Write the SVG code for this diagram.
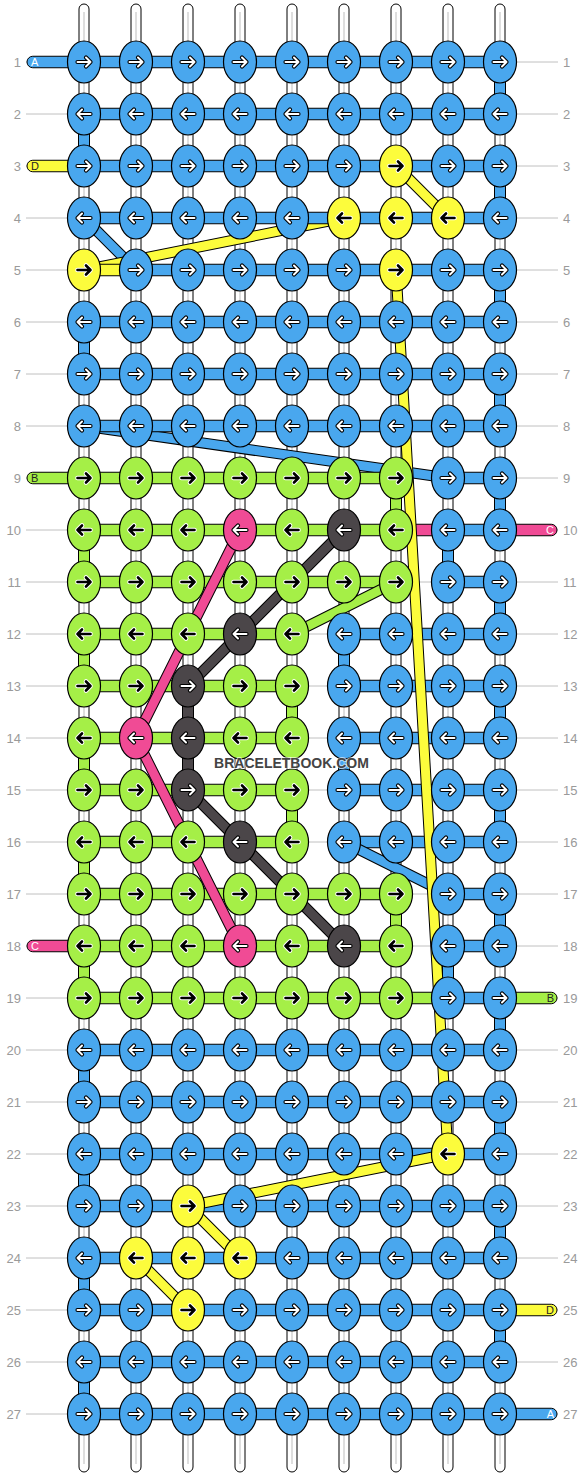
<svg xmlns="http://www.w3.org/2000/svg" width="584" height="1476" viewBox="0 0 584 1476">
<style>
.gl{stroke:#c0c0c0;stroke-width:1}
.wp{fill:#fff;stroke:#000;stroke-width:1}
.wc{stroke:#c8c8c8;stroke-width:1.2}
.cn{stroke:#000;stroke-width:1}
.B{fill:#49a7ee}.Y{fill:#fcfc3c}.G{fill:#a5ef47}.P{fill:#f04b95}.D{fill:#4b4649}
ellipse{stroke:#000;stroke-width:1.2}
.ol{fill:none;stroke:#000;stroke-width:11;stroke-linejoin:round}
.sB,.sY,.sG,.sP,.sD{fill:none;stroke-width:9;stroke-linejoin:round}
.sB{stroke:#49a7ee}.sY{stroke:#fcfc3c}.sG{stroke:#a5ef47}.sP{stroke:#f04b95}.sD{stroke:#4b4649}
.lb{font-family:"Liberation Sans",Arial,sans-serif;font-size:13px;fill:#9a9a9a}
.bt{font-family:"Liberation Sans",Arial,sans-serif;font-size:11px}
</style>
<defs>
<g id="wr"><path d="M-6.5 0H6.5M2 -4.5L6.5 0L2 4.5" fill="none" stroke="#000" stroke-width="4.2" stroke-linecap="round" stroke-linejoin="round"/><path d="M-6.5 0H6.5M2 -4.5L6.5 0L2 4.5" fill="none" stroke="#fff" stroke-width="2" stroke-linecap="round" stroke-linejoin="round"/></g>
<g id="wl"><path d="M6.5 0H-6.5M-2 -4.5L-6.5 0L-2 4.5" fill="none" stroke="#000" stroke-width="4.2" stroke-linecap="round" stroke-linejoin="round"/><path d="M6.5 0H-6.5M-2 -4.5L-6.5 0L-2 4.5" fill="none" stroke="#fff" stroke-width="2" stroke-linecap="round" stroke-linejoin="round"/></g>
<g id="kr"><path d="M-6.5 0H6.5M2 -4.5L6.5 0L2 4.5" fill="none" stroke="#fff" stroke-width="4.6" stroke-linecap="round" stroke-linejoin="round"/><path d="M-6.5 0H6.5M2 -4.5L6.5 0L2 4.5" fill="none" stroke="#000" stroke-width="2.6" stroke-linecap="round" stroke-linejoin="round"/></g>
<g id="kl"><path d="M6.5 0H-6.5M-2 -4.5L-6.5 0L-2 4.5" fill="none" stroke="#fff" stroke-width="4.6" stroke-linecap="round" stroke-linejoin="round"/><path d="M6.5 0H-6.5M-2 -4.5L-6.5 0L-2 4.5" fill="none" stroke="#000" stroke-width="2.6" stroke-linecap="round" stroke-linejoin="round"/></g>
</defs>
<rect width="584" height="1476" fill="#fff"/>
<g id="guides">
<path class="gl" d="M26 62H558M26 114H558M26 166H558M26 218H558M26 270H558M26 322H558M26 374H558M26 426H558M26 478H558M26 530H558M26 582H558M26 634H558M26 686H558M26 738H558M26 790H558M26 842H558M26 894H558M26 946H558M26 998H558M26 1050H558M26 1102H558M26 1154H558M26 1206H558M26 1258H558M26 1310H558M26 1362H558M26 1414H558"/>
</g>
<g id="warps">
<rect class="wp" x="79" y="4" width="10" height="1468" rx="5"/>
<rect class="wp" x="131" y="4" width="10" height="1468" rx="5"/>
<rect class="wp" x="183" y="4" width="10" height="1468" rx="5"/>
<rect class="wp" x="235" y="4" width="10" height="1468" rx="5"/>
<rect class="wp" x="287" y="4" width="10" height="1468" rx="5"/>
<rect class="wp" x="339" y="4" width="10" height="1468" rx="5"/>
<rect class="wp" x="391" y="4" width="10" height="1468" rx="5"/>
<rect class="wp" x="443" y="4" width="10" height="1468" rx="5"/>
<rect class="wp" x="495" y="4" width="10" height="1468" rx="5"/>
<path class="wc" d="M84 12V1464M136 12V1464M188 12V1464M240 12V1464M292 12V1464M344 12V1464M396 12V1464M448 12V1464M500 12V1464"/>
</g>
<g id="connectors">
<g id="under">
<polyline class="ol" points="84,218 136,270"/><polyline class="sB" points="84,218 136,270"/>
<polyline class="ol" points="344,218 84,270"/><polyline class="sY" points="344,218 84,270"/>
<polyline class="ol" points="84,426 448,478"/><polyline class="sB" points="84,426 448,478"/>
</g>
<g id="straight">
<rect class="cn B" x="84" y="56.25" width="416" height="11.5"/>
<rect class="cn B" x="84" y="108.25" width="416" height="11.5"/>
<rect class="cn B" x="84" y="160.25" width="416" height="11.5"/>
<rect class="cn B" x="84" y="212.25" width="416" height="11.5"/>
<rect class="cn Y" x="84" y="264.25" width="52" height="11.5"/>
<rect class="cn B" x="136" y="264.25" width="364" height="11.5"/>
<rect class="cn B" x="84" y="316.25" width="416" height="11.5"/>
<rect class="cn B" x="84" y="368.25" width="416" height="11.5"/>
<rect class="cn B" x="84" y="420.25" width="416" height="11.5"/>
<rect class="cn G" x="84" y="472.25" width="312" height="11.5"/>
<rect class="cn B" x="448" y="472.25" width="52" height="11.5"/>
<rect class="cn G" x="84" y="524.25" width="312" height="11.5"/>
<rect class="cn P" x="396" y="524.25" width="52" height="11.5"/>
<rect class="cn B" x="448" y="524.25" width="52" height="11.5"/>
<rect class="cn G" x="84" y="576.25" width="312" height="11.5"/>
<rect class="cn B" x="448" y="576.25" width="52" height="11.5"/>
<rect class="cn G" x="84" y="628.25" width="208" height="11.5"/>
<rect class="cn B" x="344" y="628.25" width="156" height="11.5"/>
<rect class="cn G" x="84" y="680.25" width="208" height="11.5"/>
<rect class="cn B" x="344" y="680.25" width="156" height="11.5"/>
<rect class="cn G" x="84" y="732.25" width="208" height="11.5"/>
<rect class="cn B" x="344" y="732.25" width="156" height="11.5"/>
<rect class="cn G" x="84" y="784.25" width="208" height="11.5"/>
<rect class="cn B" x="344" y="784.25" width="156" height="11.5"/>
<rect class="cn G" x="84" y="836.25" width="208" height="11.5"/>
<rect class="cn B" x="344" y="836.25" width="156" height="11.5"/>
<rect class="cn G" x="84" y="888.25" width="312" height="11.5"/>
<rect class="cn B" x="448" y="888.25" width="52" height="11.5"/>
<rect class="cn G" x="84" y="940.25" width="312" height="11.5"/>
<rect class="cn B" x="448" y="940.25" width="52" height="11.5"/>
<rect class="cn G" x="84" y="992.25" width="364" height="11.5"/>
<rect class="cn B" x="448" y="992.25" width="52" height="11.5"/>
<rect class="cn B" x="84" y="1044.25" width="416" height="11.5"/>
<rect class="cn B" x="84" y="1096.25" width="416" height="11.5"/>
<rect class="cn B" x="84" y="1148.25" width="416" height="11.5"/>
<rect class="cn B" x="84" y="1200.25" width="416" height="11.5"/>
<rect class="cn B" x="84" y="1252.25" width="416" height="11.5"/>
<rect class="cn B" x="84" y="1304.25" width="416" height="11.5"/>
<rect class="cn B" x="84" y="1356.25" width="416" height="11.5"/>
<rect class="cn B" x="84" y="1408.25" width="416" height="11.5"/>
<rect class="cn B" x="27" y="56.25" width="60" height="11.5" rx="5.75"/>
<rect class="cn Y" x="27" y="160.25" width="60" height="11.5" rx="5.75"/>
<rect class="cn G" x="27" y="472.25" width="60" height="11.5" rx="5.75"/>
<rect class="cn P" x="27" y="940.25" width="60" height="11.5" rx="5.75"/>
<rect class="cn P" x="497" y="524.25" width="60" height="11.5" rx="5.75"/>
<rect class="cn G" x="497" y="992.25" width="60" height="11.5" rx="5.75"/>
<rect class="cn Y" x="497" y="1304.25" width="60" height="11.5" rx="5.75"/>
<rect class="cn B" x="497" y="1408.25" width="60" height="11.5" rx="5.75"/>
<rect class="cn B" x="494.5" y="62" width="11" height="52"/>
<rect class="cn B" x="78.5" y="114" width="11" height="52"/>
<rect class="cn B" x="494.5" y="166" width="11" height="52"/>
<rect class="cn B" x="494.5" y="270" width="11" height="52"/>
<rect class="cn B" x="78.5" y="322" width="11" height="52"/>
<rect class="cn B" x="494.5" y="374" width="11" height="52"/>
<rect class="cn B" x="494.5" y="478" width="11" height="52"/>
<rect class="cn B" x="442.5" y="530" width="11" height="52"/>
<rect class="cn B" x="494.5" y="582" width="11" height="52"/>
<rect class="cn B" x="338.5" y="634" width="11" height="52"/>
<rect class="cn B" x="494.5" y="686" width="11" height="52"/>
<rect class="cn B" x="338.5" y="738" width="11" height="52"/>
<rect class="cn B" x="494.5" y="790" width="11" height="52"/>
<rect class="cn B" x="494.5" y="894" width="11" height="52"/>
<rect class="cn B" x="442.5" y="946" width="11" height="52"/>
<rect class="cn B" x="494.5" y="998" width="11" height="52"/>
<rect class="cn B" x="78.5" y="1050" width="11" height="52"/>
<rect class="cn B" x="494.5" y="1102" width="11" height="52"/>
<rect class="cn B" x="78.5" y="1154" width="11" height="52"/>
<rect class="cn B" x="494.5" y="1206" width="11" height="52"/>
<rect class="cn B" x="78.5" y="1258" width="11" height="52"/>
<rect class="cn B" x="494.5" y="1310" width="11" height="52"/>
<rect class="cn B" x="78.5" y="1362" width="11" height="52"/>
<rect class="cn G" x="390.5" y="478" width="11" height="52"/>
<rect class="cn G" x="78.5" y="530" width="11" height="52"/>
<rect class="cn G" x="78.5" y="634" width="11" height="52"/>
<rect class="cn G" x="286.5" y="686" width="11" height="52"/>
<rect class="cn G" x="78.5" y="738" width="11" height="52"/>
<rect class="cn G" x="286.5" y="790" width="11" height="52"/>
<rect class="cn G" x="78.5" y="842" width="11" height="52"/>
<rect class="cn G" x="390.5" y="894" width="11" height="52"/>
<rect class="cn G" x="78.5" y="946" width="11" height="52"/>
<rect class="cn D" x="182.5" y="686" width="11" height="104"/>
</g>
<g id="over">
<polyline class="ol" points="396,166 448,218"/><polyline class="sY" points="396,166 448,218"/>
<polyline class="ol" points="396,582 292,634"/><polyline class="sG" points="396,582 292,634"/>
<polyline class="ol" points="344,842 448,894"/><polyline class="sB" points="344,842 448,894"/>
<polyline class="ol" points="344,530 240,634 188,686"/><polyline class="sD" points="344,530 240,634 188,686"/>
<polyline class="ol" points="188,790 240,842 344,946"/><polyline class="sD" points="188,790 240,842 344,946"/>
<polyline class="ol" points="240,530 136,738 240,946"/><polyline class="sP" points="240,530 136,738 240,946"/>
<polyline class="ol" points="396,270 448,1154 188,1206 240,1258"/><polyline class="sY" points="396,270 448,1154 188,1206 240,1258"/>
<polyline class="ol" points="136,1258 188,1310"/><polyline class="sY" points="136,1258 188,1310"/>
</g>
</g>
<g id="knots">
<g id="n1_1"><ellipse class="B" cx="84" cy="62" rx="16.5" ry="21"/><use href="#wr" x="84" y="62"/></g>
<g id="n1_2"><ellipse class="B" cx="136" cy="62" rx="16.5" ry="21"/><use href="#wr" x="136" y="62"/></g>
<g id="n1_3"><ellipse class="B" cx="188" cy="62" rx="16.5" ry="21"/><use href="#wr" x="188" y="62"/></g>
<g id="n1_4"><ellipse class="B" cx="240" cy="62" rx="16.5" ry="21"/><use href="#wr" x="240" y="62"/></g>
<g id="n1_5"><ellipse class="B" cx="292" cy="62" rx="16.5" ry="21"/><use href="#wr" x="292" y="62"/></g>
<g id="n1_6"><ellipse class="B" cx="344" cy="62" rx="16.5" ry="21"/><use href="#wr" x="344" y="62"/></g>
<g id="n1_7"><ellipse class="B" cx="396" cy="62" rx="16.5" ry="21"/><use href="#wr" x="396" y="62"/></g>
<g id="n1_8"><ellipse class="B" cx="448" cy="62" rx="16.5" ry="21"/><use href="#wr" x="448" y="62"/></g>
<g id="n1_9"><ellipse class="B" cx="500" cy="62" rx="16.5" ry="21"/><use href="#wr" x="500" y="62"/></g>
<g id="n2_1"><ellipse class="B" cx="84" cy="114" rx="16.5" ry="21"/><use href="#wl" x="84" y="114"/></g>
<g id="n2_2"><ellipse class="B" cx="136" cy="114" rx="16.5" ry="21"/><use href="#wl" x="136" y="114"/></g>
<g id="n2_3"><ellipse class="B" cx="188" cy="114" rx="16.5" ry="21"/><use href="#wl" x="188" y="114"/></g>
<g id="n2_4"><ellipse class="B" cx="240" cy="114" rx="16.5" ry="21"/><use href="#wl" x="240" y="114"/></g>
<g id="n2_5"><ellipse class="B" cx="292" cy="114" rx="16.5" ry="21"/><use href="#wl" x="292" y="114"/></g>
<g id="n2_6"><ellipse class="B" cx="344" cy="114" rx="16.5" ry="21"/><use href="#wl" x="344" y="114"/></g>
<g id="n2_7"><ellipse class="B" cx="396" cy="114" rx="16.5" ry="21"/><use href="#wl" x="396" y="114"/></g>
<g id="n2_8"><ellipse class="B" cx="448" cy="114" rx="16.5" ry="21"/><use href="#wl" x="448" y="114"/></g>
<g id="n2_9"><ellipse class="B" cx="500" cy="114" rx="16.5" ry="21"/><use href="#wl" x="500" y="114"/></g>
<g id="n3_1"><ellipse class="B" cx="84" cy="166" rx="16.5" ry="21"/><use href="#wr" x="84" y="166"/></g>
<g id="n3_2"><ellipse class="B" cx="136" cy="166" rx="16.5" ry="21"/><use href="#wr" x="136" y="166"/></g>
<g id="n3_3"><ellipse class="B" cx="188" cy="166" rx="16.5" ry="21"/><use href="#wr" x="188" y="166"/></g>
<g id="n3_4"><ellipse class="B" cx="240" cy="166" rx="16.5" ry="21"/><use href="#wr" x="240" y="166"/></g>
<g id="n3_5"><ellipse class="B" cx="292" cy="166" rx="16.5" ry="21"/><use href="#wr" x="292" y="166"/></g>
<g id="n3_6"><ellipse class="B" cx="344" cy="166" rx="16.5" ry="21"/><use href="#wr" x="344" y="166"/></g>
<g id="n3_7"><ellipse class="Y" cx="396" cy="166" rx="16.5" ry="21"/><use href="#kr" x="396" y="166"/></g>
<g id="n3_8"><ellipse class="B" cx="448" cy="166" rx="16.5" ry="21"/><use href="#wr" x="448" y="166"/></g>
<g id="n3_9"><ellipse class="B" cx="500" cy="166" rx="16.5" ry="21"/><use href="#wr" x="500" y="166"/></g>
<g id="n4_1"><ellipse class="B" cx="84" cy="218" rx="16.5" ry="21"/><use href="#wl" x="84" y="218"/></g>
<g id="n4_2"><ellipse class="B" cx="136" cy="218" rx="16.5" ry="21"/><use href="#wl" x="136" y="218"/></g>
<g id="n4_3"><ellipse class="B" cx="188" cy="218" rx="16.5" ry="21"/><use href="#wl" x="188" y="218"/></g>
<g id="n4_4"><ellipse class="B" cx="240" cy="218" rx="16.5" ry="21"/><use href="#wl" x="240" y="218"/></g>
<g id="n4_5"><ellipse class="B" cx="292" cy="218" rx="16.5" ry="21"/><use href="#wl" x="292" y="218"/></g>
<g id="n4_6"><ellipse class="Y" cx="344" cy="218" rx="16.5" ry="21"/><use href="#kl" x="344" y="218"/></g>
<g id="n4_7"><ellipse class="Y" cx="396" cy="218" rx="16.5" ry="21"/><use href="#kl" x="396" y="218"/></g>
<g id="n4_8"><ellipse class="Y" cx="448" cy="218" rx="16.5" ry="21"/><use href="#kl" x="448" y="218"/></g>
<g id="n4_9"><ellipse class="B" cx="500" cy="218" rx="16.5" ry="21"/><use href="#wl" x="500" y="218"/></g>
<g id="n5_1"><ellipse class="Y" cx="84" cy="270" rx="16.5" ry="21"/><use href="#kr" x="84" y="270"/></g>
<g id="n5_2"><ellipse class="B" cx="136" cy="270" rx="16.5" ry="21"/><use href="#wr" x="136" y="270"/></g>
<g id="n5_3"><ellipse class="B" cx="188" cy="270" rx="16.5" ry="21"/><use href="#wr" x="188" y="270"/></g>
<g id="n5_4"><ellipse class="B" cx="240" cy="270" rx="16.5" ry="21"/><use href="#wr" x="240" y="270"/></g>
<g id="n5_5"><ellipse class="B" cx="292" cy="270" rx="16.5" ry="21"/><use href="#wr" x="292" y="270"/></g>
<g id="n5_6"><ellipse class="B" cx="344" cy="270" rx="16.5" ry="21"/><use href="#wr" x="344" y="270"/></g>
<g id="n5_7"><ellipse class="Y" cx="396" cy="270" rx="16.5" ry="21"/><use href="#kr" x="396" y="270"/></g>
<g id="n5_8"><ellipse class="B" cx="448" cy="270" rx="16.5" ry="21"/><use href="#wr" x="448" y="270"/></g>
<g id="n5_9"><ellipse class="B" cx="500" cy="270" rx="16.5" ry="21"/><use href="#wr" x="500" y="270"/></g>
<g id="n6_1"><ellipse class="B" cx="84" cy="322" rx="16.5" ry="21"/><use href="#wl" x="84" y="322"/></g>
<g id="n6_2"><ellipse class="B" cx="136" cy="322" rx="16.5" ry="21"/><use href="#wl" x="136" y="322"/></g>
<g id="n6_3"><ellipse class="B" cx="188" cy="322" rx="16.5" ry="21"/><use href="#wl" x="188" y="322"/></g>
<g id="n6_4"><ellipse class="B" cx="240" cy="322" rx="16.5" ry="21"/><use href="#wl" x="240" y="322"/></g>
<g id="n6_5"><ellipse class="B" cx="292" cy="322" rx="16.5" ry="21"/><use href="#wl" x="292" y="322"/></g>
<g id="n6_6"><ellipse class="B" cx="344" cy="322" rx="16.5" ry="21"/><use href="#wl" x="344" y="322"/></g>
<g id="n6_7"><ellipse class="B" cx="396" cy="322" rx="16.5" ry="21"/><use href="#wl" x="396" y="322"/></g>
<g id="n6_8"><ellipse class="B" cx="448" cy="322" rx="16.5" ry="21"/><use href="#wl" x="448" y="322"/></g>
<g id="n6_9"><ellipse class="B" cx="500" cy="322" rx="16.5" ry="21"/><use href="#wl" x="500" y="322"/></g>
<g id="n7_1"><ellipse class="B" cx="84" cy="374" rx="16.5" ry="21"/><use href="#wr" x="84" y="374"/></g>
<g id="n7_2"><ellipse class="B" cx="136" cy="374" rx="16.5" ry="21"/><use href="#wr" x="136" y="374"/></g>
<g id="n7_3"><ellipse class="B" cx="188" cy="374" rx="16.5" ry="21"/><use href="#wr" x="188" y="374"/></g>
<g id="n7_4"><ellipse class="B" cx="240" cy="374" rx="16.5" ry="21"/><use href="#wr" x="240" y="374"/></g>
<g id="n7_5"><ellipse class="B" cx="292" cy="374" rx="16.5" ry="21"/><use href="#wr" x="292" y="374"/></g>
<g id="n7_6"><ellipse class="B" cx="344" cy="374" rx="16.5" ry="21"/><use href="#wr" x="344" y="374"/></g>
<g id="n7_7"><ellipse class="B" cx="396" cy="374" rx="16.5" ry="21"/><use href="#wr" x="396" y="374"/></g>
<g id="n7_8"><ellipse class="B" cx="448" cy="374" rx="16.5" ry="21"/><use href="#wr" x="448" y="374"/></g>
<g id="n7_9"><ellipse class="B" cx="500" cy="374" rx="16.5" ry="21"/><use href="#wr" x="500" y="374"/></g>
<g id="n8_1"><ellipse class="B" cx="84" cy="426" rx="16.5" ry="21"/><use href="#wl" x="84" y="426"/></g>
<g id="n8_2"><ellipse class="B" cx="136" cy="426" rx="16.5" ry="21"/><use href="#wl" x="136" y="426"/></g>
<g id="n8_3"><ellipse class="B" cx="188" cy="426" rx="16.5" ry="21"/><use href="#wl" x="188" y="426"/></g>
<g id="n8_4"><ellipse class="B" cx="240" cy="426" rx="16.5" ry="21"/><use href="#wl" x="240" y="426"/></g>
<g id="n8_5"><ellipse class="B" cx="292" cy="426" rx="16.5" ry="21"/><use href="#wl" x="292" y="426"/></g>
<g id="n8_6"><ellipse class="B" cx="344" cy="426" rx="16.5" ry="21"/><use href="#wl" x="344" y="426"/></g>
<g id="n8_7"><ellipse class="B" cx="396" cy="426" rx="16.5" ry="21"/><use href="#wl" x="396" y="426"/></g>
<g id="n8_8"><ellipse class="B" cx="448" cy="426" rx="16.5" ry="21"/><use href="#wl" x="448" y="426"/></g>
<g id="n8_9"><ellipse class="B" cx="500" cy="426" rx="16.5" ry="21"/><use href="#wl" x="500" y="426"/></g>
<g id="n9_1"><ellipse class="G" cx="84" cy="478" rx="16.5" ry="21"/><use href="#kr" x="84" y="478"/></g>
<g id="n9_2"><ellipse class="G" cx="136" cy="478" rx="16.5" ry="21"/><use href="#kr" x="136" y="478"/></g>
<g id="n9_3"><ellipse class="G" cx="188" cy="478" rx="16.5" ry="21"/><use href="#kr" x="188" y="478"/></g>
<g id="n9_4"><ellipse class="G" cx="240" cy="478" rx="16.5" ry="21"/><use href="#kr" x="240" y="478"/></g>
<g id="n9_5"><ellipse class="G" cx="292" cy="478" rx="16.5" ry="21"/><use href="#kr" x="292" y="478"/></g>
<g id="n9_6"><ellipse class="G" cx="344" cy="478" rx="16.5" ry="21"/><use href="#kr" x="344" y="478"/></g>
<g id="n9_7"><ellipse class="G" cx="396" cy="478" rx="16.5" ry="21"/><use href="#kr" x="396" y="478"/></g>
<g id="n9_8"><ellipse class="B" cx="448" cy="478" rx="16.5" ry="21"/><use href="#wr" x="448" y="478"/></g>
<g id="n9_9"><ellipse class="B" cx="500" cy="478" rx="16.5" ry="21"/><use href="#wr" x="500" y="478"/></g>
<g id="n10_1"><ellipse class="G" cx="84" cy="530" rx="16.5" ry="21"/><use href="#kl" x="84" y="530"/></g>
<g id="n10_2"><ellipse class="G" cx="136" cy="530" rx="16.5" ry="21"/><use href="#kl" x="136" y="530"/></g>
<g id="n10_3"><ellipse class="G" cx="188" cy="530" rx="16.5" ry="21"/><use href="#kl" x="188" y="530"/></g>
<g id="n10_4"><ellipse class="P" cx="240" cy="530" rx="16.5" ry="21"/><use href="#wl" x="240" y="530"/></g>
<g id="n10_5"><ellipse class="G" cx="292" cy="530" rx="16.5" ry="21"/><use href="#kl" x="292" y="530"/></g>
<g id="n10_6"><ellipse class="D" cx="344" cy="530" rx="16.5" ry="21"/><use href="#wl" x="344" y="530"/></g>
<g id="n10_7"><ellipse class="G" cx="396" cy="530" rx="16.5" ry="21"/><use href="#kl" x="396" y="530"/></g>
<g id="n10_8"><ellipse class="B" cx="448" cy="530" rx="16.5" ry="21"/><use href="#wl" x="448" y="530"/></g>
<g id="n10_9"><ellipse class="B" cx="500" cy="530" rx="16.5" ry="21"/><use href="#wl" x="500" y="530"/></g>
<g id="n11_1"><ellipse class="G" cx="84" cy="582" rx="16.5" ry="21"/><use href="#kr" x="84" y="582"/></g>
<g id="n11_2"><ellipse class="G" cx="136" cy="582" rx="16.5" ry="21"/><use href="#kr" x="136" y="582"/></g>
<g id="n11_3"><ellipse class="G" cx="188" cy="582" rx="16.5" ry="21"/><use href="#kr" x="188" y="582"/></g>
<g id="n11_4"><ellipse class="G" cx="240" cy="582" rx="16.5" ry="21"/><use href="#kr" x="240" y="582"/></g>
<g id="n11_5"><ellipse class="G" cx="292" cy="582" rx="16.5" ry="21"/><use href="#kr" x="292" y="582"/></g>
<g id="n11_6"><ellipse class="G" cx="344" cy="582" rx="16.5" ry="21"/><use href="#kr" x="344" y="582"/></g>
<g id="n11_7"><ellipse class="G" cx="396" cy="582" rx="16.5" ry="21"/><use href="#kr" x="396" y="582"/></g>
<g id="n11_8"><ellipse class="B" cx="448" cy="582" rx="16.5" ry="21"/><use href="#wr" x="448" y="582"/></g>
<g id="n11_9"><ellipse class="B" cx="500" cy="582" rx="16.5" ry="21"/><use href="#wr" x="500" y="582"/></g>
<g id="n12_1"><ellipse class="G" cx="84" cy="634" rx="16.5" ry="21"/><use href="#kl" x="84" y="634"/></g>
<g id="n12_2"><ellipse class="G" cx="136" cy="634" rx="16.5" ry="21"/><use href="#kl" x="136" y="634"/></g>
<g id="n12_3"><ellipse class="G" cx="188" cy="634" rx="16.5" ry="21"/><use href="#kl" x="188" y="634"/></g>
<g id="n12_4"><ellipse class="D" cx="240" cy="634" rx="16.5" ry="21"/><use href="#wl" x="240" y="634"/></g>
<g id="n12_5"><ellipse class="G" cx="292" cy="634" rx="16.5" ry="21"/><use href="#kl" x="292" y="634"/></g>
<g id="n12_6"><ellipse class="B" cx="344" cy="634" rx="16.5" ry="21"/><use href="#wl" x="344" y="634"/></g>
<g id="n12_7"><ellipse class="B" cx="396" cy="634" rx="16.5" ry="21"/><use href="#wl" x="396" y="634"/></g>
<g id="n12_8"><ellipse class="B" cx="448" cy="634" rx="16.5" ry="21"/><use href="#wl" x="448" y="634"/></g>
<g id="n12_9"><ellipse class="B" cx="500" cy="634" rx="16.5" ry="21"/><use href="#wl" x="500" y="634"/></g>
<g id="n13_1"><ellipse class="G" cx="84" cy="686" rx="16.5" ry="21"/><use href="#kr" x="84" y="686"/></g>
<g id="n13_2"><ellipse class="G" cx="136" cy="686" rx="16.5" ry="21"/><use href="#kr" x="136" y="686"/></g>
<g id="n13_3"><ellipse class="D" cx="188" cy="686" rx="16.5" ry="21"/><use href="#wr" x="188" y="686"/></g>
<g id="n13_4"><ellipse class="G" cx="240" cy="686" rx="16.5" ry="21"/><use href="#kr" x="240" y="686"/></g>
<g id="n13_5"><ellipse class="G" cx="292" cy="686" rx="16.5" ry="21"/><use href="#kr" x="292" y="686"/></g>
<g id="n13_6"><ellipse class="B" cx="344" cy="686" rx="16.5" ry="21"/><use href="#wr" x="344" y="686"/></g>
<g id="n13_7"><ellipse class="B" cx="396" cy="686" rx="16.5" ry="21"/><use href="#wr" x="396" y="686"/></g>
<g id="n13_8"><ellipse class="B" cx="448" cy="686" rx="16.5" ry="21"/><use href="#wr" x="448" y="686"/></g>
<g id="n13_9"><ellipse class="B" cx="500" cy="686" rx="16.5" ry="21"/><use href="#wr" x="500" y="686"/></g>
<g id="n14_1"><ellipse class="G" cx="84" cy="738" rx="16.5" ry="21"/><use href="#kl" x="84" y="738"/></g>
<g id="n14_2"><ellipse class="P" cx="136" cy="738" rx="16.5" ry="21"/><use href="#wl" x="136" y="738"/></g>
<g id="n14_3"><ellipse class="D" cx="188" cy="738" rx="16.5" ry="21"/><use href="#wl" x="188" y="738"/></g>
<g id="n14_4"><ellipse class="G" cx="240" cy="738" rx="16.5" ry="21"/><use href="#kl" x="240" y="738"/></g>
<g id="n14_5"><ellipse class="G" cx="292" cy="738" rx="16.5" ry="21"/><use href="#kl" x="292" y="738"/></g>
<g id="n14_6"><ellipse class="B" cx="344" cy="738" rx="16.5" ry="21"/><use href="#wl" x="344" y="738"/></g>
<g id="n14_7"><ellipse class="B" cx="396" cy="738" rx="16.5" ry="21"/><use href="#wl" x="396" y="738"/></g>
<g id="n14_8"><ellipse class="B" cx="448" cy="738" rx="16.5" ry="21"/><use href="#wl" x="448" y="738"/></g>
<g id="n14_9"><ellipse class="B" cx="500" cy="738" rx="16.5" ry="21"/><use href="#wl" x="500" y="738"/></g>
<g id="n15_1"><ellipse class="G" cx="84" cy="790" rx="16.5" ry="21"/><use href="#kr" x="84" y="790"/></g>
<g id="n15_2"><ellipse class="G" cx="136" cy="790" rx="16.5" ry="21"/><use href="#kr" x="136" y="790"/></g>
<g id="n15_3"><ellipse class="D" cx="188" cy="790" rx="16.5" ry="21"/><use href="#wr" x="188" y="790"/></g>
<g id="n15_4"><ellipse class="G" cx="240" cy="790" rx="16.5" ry="21"/><use href="#kr" x="240" y="790"/></g>
<g id="n15_5"><ellipse class="G" cx="292" cy="790" rx="16.5" ry="21"/><use href="#kr" x="292" y="790"/></g>
<g id="n15_6"><ellipse class="B" cx="344" cy="790" rx="16.5" ry="21"/><use href="#wr" x="344" y="790"/></g>
<g id="n15_7"><ellipse class="B" cx="396" cy="790" rx="16.5" ry="21"/><use href="#wr" x="396" y="790"/></g>
<g id="n15_8"><ellipse class="B" cx="448" cy="790" rx="16.5" ry="21"/><use href="#wr" x="448" y="790"/></g>
<g id="n15_9"><ellipse class="B" cx="500" cy="790" rx="16.5" ry="21"/><use href="#wr" x="500" y="790"/></g>
<g id="n16_1"><ellipse class="G" cx="84" cy="842" rx="16.5" ry="21"/><use href="#kl" x="84" y="842"/></g>
<g id="n16_2"><ellipse class="G" cx="136" cy="842" rx="16.5" ry="21"/><use href="#kl" x="136" y="842"/></g>
<g id="n16_3"><ellipse class="G" cx="188" cy="842" rx="16.5" ry="21"/><use href="#kl" x="188" y="842"/></g>
<g id="n16_4"><ellipse class="D" cx="240" cy="842" rx="16.5" ry="21"/><use href="#wl" x="240" y="842"/></g>
<g id="n16_5"><ellipse class="G" cx="292" cy="842" rx="16.5" ry="21"/><use href="#kl" x="292" y="842"/></g>
<g id="n16_6"><ellipse class="B" cx="344" cy="842" rx="16.5" ry="21"/><use href="#wl" x="344" y="842"/></g>
<g id="n16_7"><ellipse class="B" cx="396" cy="842" rx="16.5" ry="21"/><use href="#wl" x="396" y="842"/></g>
<g id="n16_8"><ellipse class="B" cx="448" cy="842" rx="16.5" ry="21"/><use href="#wl" x="448" y="842"/></g>
<g id="n16_9"><ellipse class="B" cx="500" cy="842" rx="16.5" ry="21"/><use href="#wl" x="500" y="842"/></g>
<g id="n17_1"><ellipse class="G" cx="84" cy="894" rx="16.5" ry="21"/><use href="#kr" x="84" y="894"/></g>
<g id="n17_2"><ellipse class="G" cx="136" cy="894" rx="16.5" ry="21"/><use href="#kr" x="136" y="894"/></g>
<g id="n17_3"><ellipse class="G" cx="188" cy="894" rx="16.5" ry="21"/><use href="#kr" x="188" y="894"/></g>
<g id="n17_4"><ellipse class="G" cx="240" cy="894" rx="16.5" ry="21"/><use href="#kr" x="240" y="894"/></g>
<g id="n17_5"><ellipse class="G" cx="292" cy="894" rx="16.5" ry="21"/><use href="#kr" x="292" y="894"/></g>
<g id="n17_6"><ellipse class="G" cx="344" cy="894" rx="16.5" ry="21"/><use href="#kr" x="344" y="894"/></g>
<g id="n17_7"><ellipse class="G" cx="396" cy="894" rx="16.5" ry="21"/><use href="#kr" x="396" y="894"/></g>
<g id="n17_8"><ellipse class="B" cx="448" cy="894" rx="16.5" ry="21"/><use href="#wr" x="448" y="894"/></g>
<g id="n17_9"><ellipse class="B" cx="500" cy="894" rx="16.5" ry="21"/><use href="#wr" x="500" y="894"/></g>
<g id="n18_1"><ellipse class="G" cx="84" cy="946" rx="16.5" ry="21"/><use href="#kl" x="84" y="946"/></g>
<g id="n18_2"><ellipse class="G" cx="136" cy="946" rx="16.5" ry="21"/><use href="#kl" x="136" y="946"/></g>
<g id="n18_3"><ellipse class="G" cx="188" cy="946" rx="16.5" ry="21"/><use href="#kl" x="188" y="946"/></g>
<g id="n18_4"><ellipse class="P" cx="240" cy="946" rx="16.5" ry="21"/><use href="#wl" x="240" y="946"/></g>
<g id="n18_5"><ellipse class="G" cx="292" cy="946" rx="16.5" ry="21"/><use href="#kl" x="292" y="946"/></g>
<g id="n18_6"><ellipse class="D" cx="344" cy="946" rx="16.5" ry="21"/><use href="#wl" x="344" y="946"/></g>
<g id="n18_7"><ellipse class="G" cx="396" cy="946" rx="16.5" ry="21"/><use href="#kl" x="396" y="946"/></g>
<g id="n18_8"><ellipse class="B" cx="448" cy="946" rx="16.5" ry="21"/><use href="#wl" x="448" y="946"/></g>
<g id="n18_9"><ellipse class="B" cx="500" cy="946" rx="16.5" ry="21"/><use href="#wl" x="500" y="946"/></g>
<g id="n19_1"><ellipse class="G" cx="84" cy="998" rx="16.5" ry="21"/><use href="#kr" x="84" y="998"/></g>
<g id="n19_2"><ellipse class="G" cx="136" cy="998" rx="16.5" ry="21"/><use href="#kr" x="136" y="998"/></g>
<g id="n19_3"><ellipse class="G" cx="188" cy="998" rx="16.5" ry="21"/><use href="#kr" x="188" y="998"/></g>
<g id="n19_4"><ellipse class="G" cx="240" cy="998" rx="16.5" ry="21"/><use href="#kr" x="240" y="998"/></g>
<g id="n19_5"><ellipse class="G" cx="292" cy="998" rx="16.5" ry="21"/><use href="#kr" x="292" y="998"/></g>
<g id="n19_6"><ellipse class="G" cx="344" cy="998" rx="16.5" ry="21"/><use href="#kr" x="344" y="998"/></g>
<g id="n19_7"><ellipse class="G" cx="396" cy="998" rx="16.5" ry="21"/><use href="#kr" x="396" y="998"/></g>
<g id="n19_8"><ellipse class="B" cx="448" cy="998" rx="16.5" ry="21"/><use href="#wr" x="448" y="998"/></g>
<g id="n19_9"><ellipse class="B" cx="500" cy="998" rx="16.5" ry="21"/><use href="#wr" x="500" y="998"/></g>
<g id="n20_1"><ellipse class="B" cx="84" cy="1050" rx="16.5" ry="21"/><use href="#wl" x="84" y="1050"/></g>
<g id="n20_2"><ellipse class="B" cx="136" cy="1050" rx="16.5" ry="21"/><use href="#wl" x="136" y="1050"/></g>
<g id="n20_3"><ellipse class="B" cx="188" cy="1050" rx="16.5" ry="21"/><use href="#wl" x="188" y="1050"/></g>
<g id="n20_4"><ellipse class="B" cx="240" cy="1050" rx="16.5" ry="21"/><use href="#wl" x="240" y="1050"/></g>
<g id="n20_5"><ellipse class="B" cx="292" cy="1050" rx="16.5" ry="21"/><use href="#wl" x="292" y="1050"/></g>
<g id="n20_6"><ellipse class="B" cx="344" cy="1050" rx="16.5" ry="21"/><use href="#wl" x="344" y="1050"/></g>
<g id="n20_7"><ellipse class="B" cx="396" cy="1050" rx="16.5" ry="21"/><use href="#wl" x="396" y="1050"/></g>
<g id="n20_8"><ellipse class="B" cx="448" cy="1050" rx="16.5" ry="21"/><use href="#wl" x="448" y="1050"/></g>
<g id="n20_9"><ellipse class="B" cx="500" cy="1050" rx="16.5" ry="21"/><use href="#wl" x="500" y="1050"/></g>
<g id="n21_1"><ellipse class="B" cx="84" cy="1102" rx="16.5" ry="21"/><use href="#wr" x="84" y="1102"/></g>
<g id="n21_2"><ellipse class="B" cx="136" cy="1102" rx="16.5" ry="21"/><use href="#wr" x="136" y="1102"/></g>
<g id="n21_3"><ellipse class="B" cx="188" cy="1102" rx="16.5" ry="21"/><use href="#wr" x="188" y="1102"/></g>
<g id="n21_4"><ellipse class="B" cx="240" cy="1102" rx="16.5" ry="21"/><use href="#wr" x="240" y="1102"/></g>
<g id="n21_5"><ellipse class="B" cx="292" cy="1102" rx="16.5" ry="21"/><use href="#wr" x="292" y="1102"/></g>
<g id="n21_6"><ellipse class="B" cx="344" cy="1102" rx="16.5" ry="21"/><use href="#wr" x="344" y="1102"/></g>
<g id="n21_7"><ellipse class="B" cx="396" cy="1102" rx="16.5" ry="21"/><use href="#wr" x="396" y="1102"/></g>
<g id="n21_8"><ellipse class="B" cx="448" cy="1102" rx="16.5" ry="21"/><use href="#wr" x="448" y="1102"/></g>
<g id="n21_9"><ellipse class="B" cx="500" cy="1102" rx="16.5" ry="21"/><use href="#wr" x="500" y="1102"/></g>
<g id="n22_1"><ellipse class="B" cx="84" cy="1154" rx="16.5" ry="21"/><use href="#wl" x="84" y="1154"/></g>
<g id="n22_2"><ellipse class="B" cx="136" cy="1154" rx="16.5" ry="21"/><use href="#wl" x="136" y="1154"/></g>
<g id="n22_3"><ellipse class="B" cx="188" cy="1154" rx="16.5" ry="21"/><use href="#wl" x="188" y="1154"/></g>
<g id="n22_4"><ellipse class="B" cx="240" cy="1154" rx="16.5" ry="21"/><use href="#wl" x="240" y="1154"/></g>
<g id="n22_5"><ellipse class="B" cx="292" cy="1154" rx="16.5" ry="21"/><use href="#wl" x="292" y="1154"/></g>
<g id="n22_6"><ellipse class="B" cx="344" cy="1154" rx="16.5" ry="21"/><use href="#wl" x="344" y="1154"/></g>
<g id="n22_7"><ellipse class="B" cx="396" cy="1154" rx="16.5" ry="21"/><use href="#wl" x="396" y="1154"/></g>
<g id="n22_8"><ellipse class="Y" cx="448" cy="1154" rx="16.5" ry="21"/><use href="#kl" x="448" y="1154"/></g>
<g id="n22_9"><ellipse class="B" cx="500" cy="1154" rx="16.5" ry="21"/><use href="#wl" x="500" y="1154"/></g>
<g id="n23_1"><ellipse class="B" cx="84" cy="1206" rx="16.5" ry="21"/><use href="#wr" x="84" y="1206"/></g>
<g id="n23_2"><ellipse class="B" cx="136" cy="1206" rx="16.5" ry="21"/><use href="#wr" x="136" y="1206"/></g>
<g id="n23_3"><ellipse class="Y" cx="188" cy="1206" rx="16.5" ry="21"/><use href="#kr" x="188" y="1206"/></g>
<g id="n23_4"><ellipse class="B" cx="240" cy="1206" rx="16.5" ry="21"/><use href="#wr" x="240" y="1206"/></g>
<g id="n23_5"><ellipse class="B" cx="292" cy="1206" rx="16.5" ry="21"/><use href="#wr" x="292" y="1206"/></g>
<g id="n23_6"><ellipse class="B" cx="344" cy="1206" rx="16.5" ry="21"/><use href="#wr" x="344" y="1206"/></g>
<g id="n23_7"><ellipse class="B" cx="396" cy="1206" rx="16.5" ry="21"/><use href="#wr" x="396" y="1206"/></g>
<g id="n23_8"><ellipse class="B" cx="448" cy="1206" rx="16.5" ry="21"/><use href="#wr" x="448" y="1206"/></g>
<g id="n23_9"><ellipse class="B" cx="500" cy="1206" rx="16.5" ry="21"/><use href="#wr" x="500" y="1206"/></g>
<g id="n24_1"><ellipse class="B" cx="84" cy="1258" rx="16.5" ry="21"/><use href="#wl" x="84" y="1258"/></g>
<g id="n24_2"><ellipse class="Y" cx="136" cy="1258" rx="16.5" ry="21"/><use href="#kl" x="136" y="1258"/></g>
<g id="n24_3"><ellipse class="Y" cx="188" cy="1258" rx="16.5" ry="21"/><use href="#kl" x="188" y="1258"/></g>
<g id="n24_4"><ellipse class="Y" cx="240" cy="1258" rx="16.5" ry="21"/><use href="#kl" x="240" y="1258"/></g>
<g id="n24_5"><ellipse class="B" cx="292" cy="1258" rx="16.5" ry="21"/><use href="#wl" x="292" y="1258"/></g>
<g id="n24_6"><ellipse class="B" cx="344" cy="1258" rx="16.5" ry="21"/><use href="#wl" x="344" y="1258"/></g>
<g id="n24_7"><ellipse class="B" cx="396" cy="1258" rx="16.5" ry="21"/><use href="#wl" x="396" y="1258"/></g>
<g id="n24_8"><ellipse class="B" cx="448" cy="1258" rx="16.5" ry="21"/><use href="#wl" x="448" y="1258"/></g>
<g id="n24_9"><ellipse class="B" cx="500" cy="1258" rx="16.5" ry="21"/><use href="#wl" x="500" y="1258"/></g>
<g id="n25_1"><ellipse class="B" cx="84" cy="1310" rx="16.5" ry="21"/><use href="#wr" x="84" y="1310"/></g>
<g id="n25_2"><ellipse class="B" cx="136" cy="1310" rx="16.5" ry="21"/><use href="#wr" x="136" y="1310"/></g>
<g id="n25_3"><ellipse class="Y" cx="188" cy="1310" rx="16.5" ry="21"/><use href="#kr" x="188" y="1310"/></g>
<g id="n25_4"><ellipse class="B" cx="240" cy="1310" rx="16.5" ry="21"/><use href="#wr" x="240" y="1310"/></g>
<g id="n25_5"><ellipse class="B" cx="292" cy="1310" rx="16.5" ry="21"/><use href="#wr" x="292" y="1310"/></g>
<g id="n25_6"><ellipse class="B" cx="344" cy="1310" rx="16.5" ry="21"/><use href="#wr" x="344" y="1310"/></g>
<g id="n25_7"><ellipse class="B" cx="396" cy="1310" rx="16.5" ry="21"/><use href="#wr" x="396" y="1310"/></g>
<g id="n25_8"><ellipse class="B" cx="448" cy="1310" rx="16.5" ry="21"/><use href="#wr" x="448" y="1310"/></g>
<g id="n25_9"><ellipse class="B" cx="500" cy="1310" rx="16.5" ry="21"/><use href="#wr" x="500" y="1310"/></g>
<g id="n26_1"><ellipse class="B" cx="84" cy="1362" rx="16.5" ry="21"/><use href="#wl" x="84" y="1362"/></g>
<g id="n26_2"><ellipse class="B" cx="136" cy="1362" rx="16.5" ry="21"/><use href="#wl" x="136" y="1362"/></g>
<g id="n26_3"><ellipse class="B" cx="188" cy="1362" rx="16.5" ry="21"/><use href="#wl" x="188" y="1362"/></g>
<g id="n26_4"><ellipse class="B" cx="240" cy="1362" rx="16.5" ry="21"/><use href="#wl" x="240" y="1362"/></g>
<g id="n26_5"><ellipse class="B" cx="292" cy="1362" rx="16.5" ry="21"/><use href="#wl" x="292" y="1362"/></g>
<g id="n26_6"><ellipse class="B" cx="344" cy="1362" rx="16.5" ry="21"/><use href="#wl" x="344" y="1362"/></g>
<g id="n26_7"><ellipse class="B" cx="396" cy="1362" rx="16.5" ry="21"/><use href="#wl" x="396" y="1362"/></g>
<g id="n26_8"><ellipse class="B" cx="448" cy="1362" rx="16.5" ry="21"/><use href="#wl" x="448" y="1362"/></g>
<g id="n26_9"><ellipse class="B" cx="500" cy="1362" rx="16.5" ry="21"/><use href="#wl" x="500" y="1362"/></g>
<g id="n27_1"><ellipse class="B" cx="84" cy="1414" rx="16.5" ry="21"/><use href="#wr" x="84" y="1414"/></g>
<g id="n27_2"><ellipse class="B" cx="136" cy="1414" rx="16.5" ry="21"/><use href="#wr" x="136" y="1414"/></g>
<g id="n27_3"><ellipse class="B" cx="188" cy="1414" rx="16.5" ry="21"/><use href="#wr" x="188" y="1414"/></g>
<g id="n27_4"><ellipse class="B" cx="240" cy="1414" rx="16.5" ry="21"/><use href="#wr" x="240" y="1414"/></g>
<g id="n27_5"><ellipse class="B" cx="292" cy="1414" rx="16.5" ry="21"/><use href="#wr" x="292" y="1414"/></g>
<g id="n27_6"><ellipse class="B" cx="344" cy="1414" rx="16.5" ry="21"/><use href="#wr" x="344" y="1414"/></g>
<g id="n27_7"><ellipse class="B" cx="396" cy="1414" rx="16.5" ry="21"/><use href="#wr" x="396" y="1414"/></g>
<g id="n27_8"><ellipse class="B" cx="448" cy="1414" rx="16.5" ry="21"/><use href="#wr" x="448" y="1414"/></g>
<g id="n27_9"><ellipse class="B" cx="500" cy="1414" rx="16.5" ry="21"/><use href="#wr" x="500" y="1414"/></g>
</g>
<g id="thread-labels" class="bt">
<text x="31" y="66" fill="#fff">A</text>
<text x="31" y="170" fill="#222">D</text>
<text x="31" y="482" fill="#222">B</text>
<text x="31" y="950" fill="#fff">C</text>
<text x="554" y="534" fill="#fff" text-anchor="end">C</text>
<text x="554" y="1002" fill="#222" text-anchor="end">B</text>
<text x="554" y="1314" fill="#222" text-anchor="end">D</text>
<text x="554" y="1418" fill="#fff" text-anchor="end">A</text>
</g>
<g id="row-labels-left" class="lb" text-anchor="end">
<text x="21" y="66.5">1</text><text x="21" y="118.5">2</text><text x="21" y="170.5">3</text><text x="21" y="222.5">4</text><text x="21" y="274.5">5</text><text x="21" y="326.5">6</text><text x="21" y="378.5">7</text><text x="21" y="430.5">8</text><text x="21" y="482.5">9</text><text x="21" y="534.5">10</text><text x="21" y="586.5">11</text><text x="21" y="638.5">12</text><text x="21" y="690.5">13</text><text x="21" y="742.5">14</text><text x="21" y="794.5">15</text><text x="21" y="846.5">16</text><text x="21" y="898.5">17</text><text x="21" y="950.5">18</text><text x="21" y="1002.5">19</text><text x="21" y="1054.5">20</text><text x="21" y="1106.5">21</text><text x="21" y="1158.5">22</text><text x="21" y="1210.5">23</text><text x="21" y="1262.5">24</text><text x="21" y="1314.5">25</text><text x="21" y="1366.5">26</text><text x="21" y="1418.5">27</text>
</g>
<g id="row-labels-right" class="lb">
<text x="563" y="66.5">1</text><text x="563" y="118.5">2</text><text x="563" y="170.5">3</text><text x="563" y="222.5">4</text><text x="563" y="274.5">5</text><text x="563" y="326.5">6</text><text x="563" y="378.5">7</text><text x="563" y="430.5">8</text><text x="563" y="482.5">9</text><text x="563" y="534.5">10</text><text x="563" y="586.5">11</text><text x="563" y="638.5">12</text><text x="563" y="690.5">13</text><text x="563" y="742.5">14</text><text x="563" y="794.5">15</text><text x="563" y="846.5">16</text><text x="563" y="898.5">17</text><text x="563" y="950.5">18</text><text x="563" y="1002.5">19</text><text x="563" y="1054.5">20</text><text x="563" y="1106.5">21</text><text x="563" y="1158.5">22</text><text x="563" y="1210.5">23</text><text x="563" y="1262.5">24</text><text x="563" y="1314.5">25</text><text x="563" y="1366.5">26</text><text x="563" y="1418.5">27</text>
</g>
<text id="watermark" x="291.5" y="768" text-anchor="middle" font-family="'Liberation Sans',Arial,sans-serif" font-size="14" font-weight="bold" fill="#444" stroke="#fff" stroke-width="2" stroke-opacity="0.6" paint-order="stroke">BRACELETBOOK.COM</text>
</svg>
